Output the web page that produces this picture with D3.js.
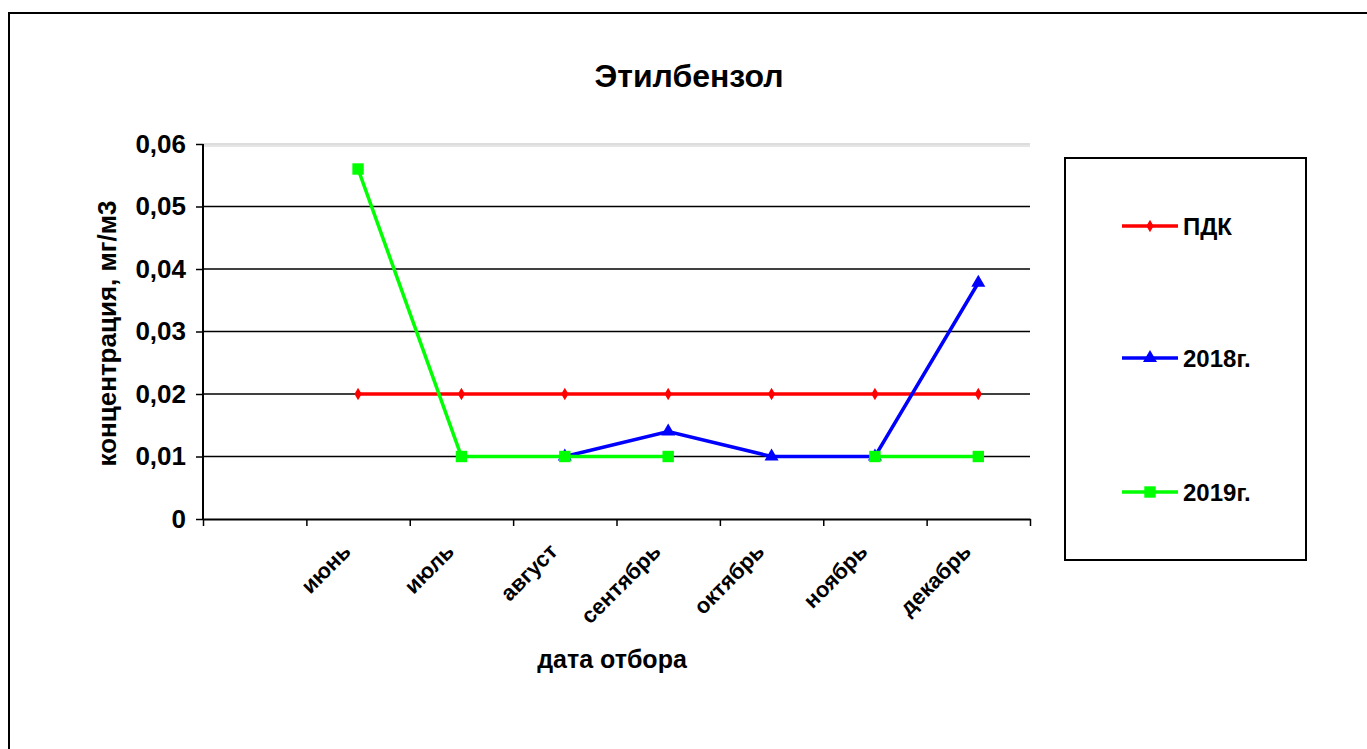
<!DOCTYPE html>
<html><head><meta charset="utf-8">
<script src="https://cdn.jsdelivr.net/npm/d3@7/dist/d3.min.js"></script>
<style>body{margin:0;background:#fff}svg{display:block;font-family:"Liberation Sans",Arial,sans-serif;font-weight:bold}</style>
</head><body><svg id="c" width="1367" height="749"></svg>
<script>
const categories = ["", "июнь", "июль", "август", "сентябрь", "октябрь", "ноябрь", "декабрь"];
const pdk     = [null, 0.02, 0.02, 0.02, 0.02, 0.02, 0.02, 0.02];
const y2018   = [null, null, null, 0.01, 0.014, 0.01, 0.01, 0.0378];
const y2019   = [null, 0.056, 0.01, 0.01, 0.01, null, 0.01, 0.01];
const yTicks  = [0, 0.01, 0.02, 0.03, 0.04, 0.05, 0.06];
const seriesNames = ["ПДК", "2018г.", "2019г."];
const titleText = "Этилбензол";
const yTitle = "концентрация,  мг/м3";
const xTitle = "дата  отбора";

const svg = d3.select("#c");
const L = 203, R = 1030, T = 144, B = 519;
const x = d3.scaleBand().domain(d3.range(categories.length)).range([L, R]).paddingInner(0).paddingOuter(0);
const y = d3.scaleLinear().domain([0, 0.06]).range([B, T]);
const fmt = v => v === 0 ? "0" : d3.format(".2f")(v).replace(".", ",");

// outer border
svg.append("rect").attr("x", 9).attr("y", 13).attr("width", 1400).attr("height", 800)
  .attr("fill", "none").attr("stroke", "#000").attr("stroke-width", 2);

// title
svg.append("text").attr("x", 689).attr("y", 87).attr("text-anchor", "middle")
  .attr("font-size", 32).text(titleText);

// gridlines
svg.append("g").selectAll("line").data(yTicks.filter(d => d > 0)).join("line")
  .attr("x1", L).attr("x2", R).attr("y1", d => y(d)).attr("y2", d => y(d))
  .attr("stroke", d => d === 0.06 ? "#bbb" : "#000").attr("stroke-width", d => d === 0.06 ? 1 : 1.6);
svg.append("line").attr("x1", L).attr("x2", R).attr("y1", y(0.06) + 2).attr("y2", y(0.06) + 2)
  .attr("stroke", "#ccc").attr("stroke-width", 1);

// y axis
const yAxis = d3.axisLeft(y).tickValues(yTicks).tickFormat(fmt).tickSize(7).tickPadding(10);
const gy = svg.append("g").attr("transform", `translate(${L},0)`).call(yAxis);
gy.select(".domain").attr("stroke-width", 2).attr("d", `M0,${T}V${B}`);
gy.selectAll(".tick line").attr("stroke-width", 1.5);
gy.selectAll("text").attr("font-size", 26).attr("font-family", "Liberation Sans, Arial").attr("font-weight", "bold").attr("fill", "#000");

// x axis
const xb = d3.scaleLinear().domain([0, categories.length]).range([L, R]);
const gx = svg.append("g").attr("transform", `translate(0,${B})`)
  .call(d3.axisBottom(xb).tickValues(d3.range(categories.length + 1)).tickFormat("").tickSize(7).tickSizeOuter(0));
gx.select(".domain").attr("stroke-width", 2);
gx.selectAll(".tick line").attr("stroke-width", 1.5);

svg.append("g").selectAll("text").data(categories).join("text")
  .attr("transform", (d, i) => `translate(${x(i) + x.bandwidth() / 2 - 6},${B + 34}) rotate(-45)`)
  .attr("text-anchor", "end").attr("font-size", 22).text(d => d);

// axis titles
svg.append("text").attr("transform", `translate(116,${(T + B) / 2 + 2}) rotate(-90)`)
  .attr("text-anchor", "middle").attr("font-size", 26).text(yTitle);
svg.append("text").attr("x", 612).attr("y", 668).attr("text-anchor", "middle")
  .attr("font-size", 25).text(xTitle);

// series
const colors = ["#ff0000", "#0000ff", "#00ff00"];
const symbols = [d3.symbolDiamond, d3.symbolTriangle, d3.symbolSquare];
const sizes = [45, 85, 130];
const data = [pdk, y2018, y2019];
const line = d3.line().defined(d => d.v !== null).x(d => x(d.i) + x.bandwidth() / 2).y(d => y(d.v));
data.forEach((s, k) => {
  const pts = s.map((v, i) => ({ i, v }));
  svg.append("path").datum(pts).attr("d", line).attr("fill", "none")
    .attr("stroke", colors[k]).attr("stroke-width", 3.5);
  svg.append("g").selectAll("path").data(pts.filter(d => d.v !== null)).join("path")
    .attr("transform", d => `translate(${x(d.i) + x.bandwidth() / 2},${y(d.v)})`)
    .attr("d", d3.symbol(symbols[k], sizes[k])).attr("fill", colors[k]);
});

// legend
svg.append("rect").attr("x", 1065).attr("y", 158).attr("width", 241).attr("height", 402)
  .attr("fill", "#fff").attr("stroke", "#000").attr("stroke-width", 2);
const legY = [226, 358, 492];
seriesNames.forEach((n, k) => {
  const g = svg.append("g").attr("transform", `translate(0,${legY[k]})`);
  g.append("line").attr("x1", 1122).attr("x2", 1178).attr("stroke", colors[k]).attr("stroke-width", 3.5);
  g.append("path").attr("transform", "translate(1150,0)").attr("d", d3.symbol(symbols[k], sizes[k])).attr("fill", colors[k]);
  g.append("text").attr("x", 1183).attr("y", 9).attr("font-size", 24).text(n);
});
</script></body></html>
